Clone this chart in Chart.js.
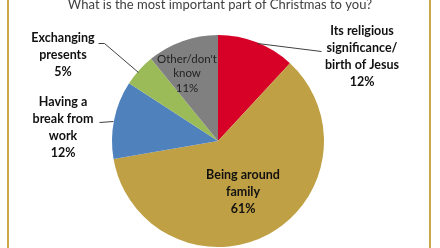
<!DOCTYPE html>
<html><head><meta charset="utf-8">
<script src="https://cdn.jsdelivr.net/npm/chart.js@4/dist/chart.umd.min.js"></script>
<style>
html,body{margin:0;padding:0;background:#fff;}
#wrap{position:relative;width:440px;height:248px;overflow:hidden;}
.frame{position:absolute;top:0;width:2px;height:248px;background:#C8A84B;}
canvas{position:absolute;left:0;top:0;}
</style></head>
<body>
<div id="wrap">
<canvas id="c" width="440" height="248"></canvas>
<div class="frame" style="left:7px"></div>
<div class="frame" style="left:429px"></div>
</div>
<script>
const title = "What is the most important part of Christmas to you?";
const categories = [
  "Its religious significance/ birth of Jesus",
  "Being around family",
  "Having a break from work",
  "Exchanging presents",
  "Other/don't know"
];
const values = [12, 61, 12, 5, 11];
const colors = ["#D70027", "#C0A044", "#4F81BD", "#9BBB59", "#808080"];

// label layout (styling only)
const labelLines = [
  ["Its religious", "significance/", "birth of Jesus"],
  ["Being around", "family"],
  ["Having a", "break from", "work"],
  ["Exchanging", "presents"],
  ["Other/don't", "know"]
];
const labelPos = [
  {x:362, y:31, lh:17, bold:true, size:12.5},
  {x:243, y:175, lh:17, bold:true, size:12.5},
  {x:63, y:102, lh:17, bold:true, size:12.5},
  {x:63, y:38, lh:17, bold:true, size:12.5},
  {x:187, y:59, lh:14.5, bold:false, size:11.5}
];
const leaders = [
  [[257,43],[321,51]],
  null,
  [[99,122],[113,121]],
  [[98,43],[104,43],[138,72]],
  null
];

const labelPlugin = {
  id:'labels',
  afterDraw(chart){
    const ctx = chart.ctx;
    ctx.save();
    ctx.fillStyle = '#404040';
    ctx.font = '13px Lato, "Open Sans", sans-serif';
    ctx.textAlign = 'center';
    ctx.textBaseline = 'middle';
    ctx.fillText(title, 220, 5);
    ctx.strokeStyle = '#404040';
    ctx.lineWidth = 1;
    leaders.forEach(l=>{
      if(!l) return;
      ctx.beginPath();
      ctx.moveTo(l[0][0]+0.5,l[0][1]+0.5);
      for(let i=1;i<l.length;i++) ctx.lineTo(l[i][0]+0.5,l[i][1]+0.5);
      ctx.stroke();
    });
    const data = chart.data.datasets[0].data;
    labelLines.forEach((lines,i)=>{
      const p = labelPos[i];
      ctx.font = (p.bold?'bold ':'') + p.size + 'px Lato, "Open Sans", sans-serif';
      ctx.fillStyle = p.bold ? '#111' : '#222';
      const all = lines.concat([data[i] + '%']);
      all.forEach((t,k)=>ctx.fillText(t, p.x, p.y + k*p.lh));
    });
    ctx.restore();
  }
};

new Chart(document.getElementById('c'), {
  type:'pie',
  data:{labels:categories, datasets:[{data:values, backgroundColor:colors, borderWidth:0}]},
  options:{
    responsive:false, animation:false,
    layout:{padding:{left:112, right:116, top:35, bottom:1}},
    plugins:{legend:{display:false}, tooltip:{enabled:false}, title:{display:false}}
  },
  plugins:[labelPlugin]
});
</script>
</body></html>
